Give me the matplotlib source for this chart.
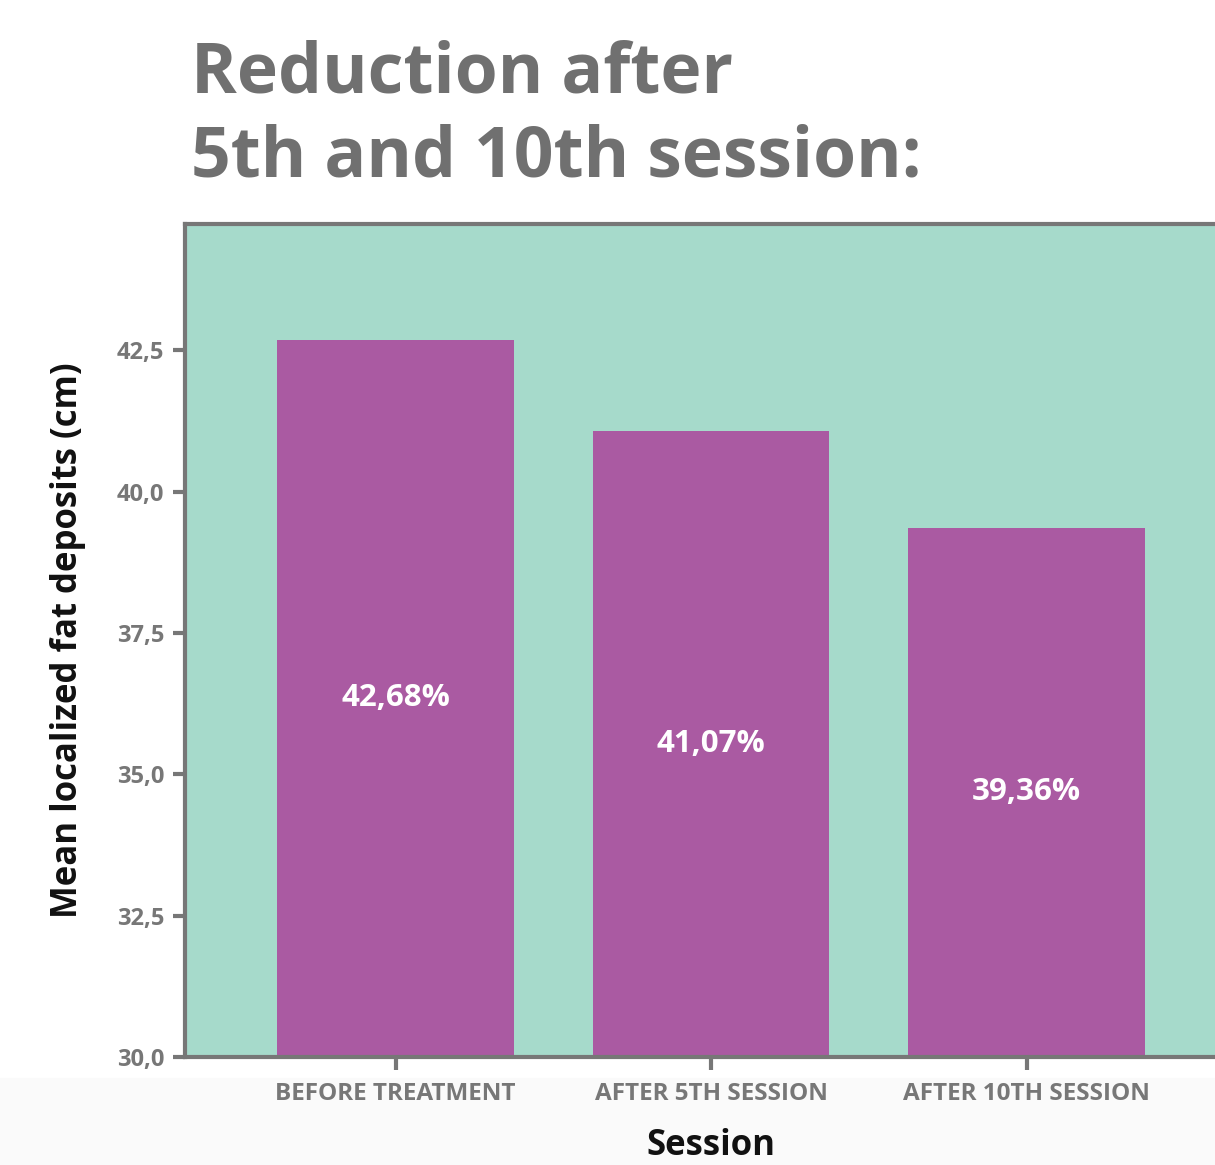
import matplotlib.pyplot as plt
import matplotlib.patches as mpatches

# data
sessions = ['BEFORE TREATMENT', 'AFTER 5TH SESSION', 'AFTER 10TH SESSION']
values = [42.68, 41.07, 39.36]
bar_labels = ['42,68%', '41,07%', '39,36%']
yticks = [30.0, 32.5, 35.0, 37.5, 40.0, 42.5]
ytick_labels = ['30,0', '32,5', '35,0', '37,5', '40,0', '42,5']

plt.rcParams['font.family'] = ['Open Sans', 'DejaVu Sans']

bg = '#a6dacb'
purple = '#aa5aa2'
gray = '#777777'

fig = plt.figure(figsize=(12.15, 11.65), dpi=100)

# faint grey band at the very bottom of the image
fig.patches.append(mpatches.Rectangle((0, 0), 1, 0.075, transform=fig.transFigure,
                                      color='#fafafa', zorder=-5))

ax = fig.add_axes([0.1523, 0.0927, 0.8477, 0.7150])
ax.set_zorder(1)
ax.set_facecolor(bg)

x = range(len(sessions))
base = 30.0
ax.bar(x, [v - base for v in values], bottom=base, width=0.75, color=purple, zorder=2)

for i, v in enumerate(values):
    ax.text(i, (v + base) / 2, bar_labels[i], ha='center', va='center',
            color='white', fontsize=22.5, fontweight='bold', zorder=3)

ax.set_xlim(-0.667, 2.597)
ax.set_ylim(30, 44.73)
ax.set_yticks(yticks)
ax.set_yticklabels(ytick_labels)
ax.set_xticks(list(x))
ax.set_xticklabels(sessions)

for s in ['left', 'top', 'bottom']:
    ax.spines[s].set_color(gray)
    ax.spines[s].set_linewidth(3)
ax.spines['right'].set_visible(False)

ax.tick_params(axis='both', colors=gray, width=3, length=9)
ax.tick_params(axis='y', labelsize=17, pad=6)
ax.tick_params(axis='x', labelsize=17.5, pad=9)
for lbl in ax.get_yticklabels() + ax.get_xticklabels():
    lbl.set_fontweight('bold')
    lbl.set_color(gray)

ax.set_ylabel('Mean localized fat deposits (cm)', fontsize=25, fontweight='bold',
              color='#111111', labelpad=22)
ax.set_xlabel('Session', fontsize=25, fontweight='bold', color='#111111', labelpad=14)
ax.xaxis.set_label_coords(0.5107, -0.085)

fig.text(0.157, 0.936, 'Reduction after', fontsize=50, fontweight='bold',
         color='#707070', va='center', ha='left')
fig.text(0.157, 0.864, '5th and 10th session:', fontsize=50, fontweight='bold',
         color='#707070', va='center', ha='left')

fig.savefig('out.png', dpi=100)
